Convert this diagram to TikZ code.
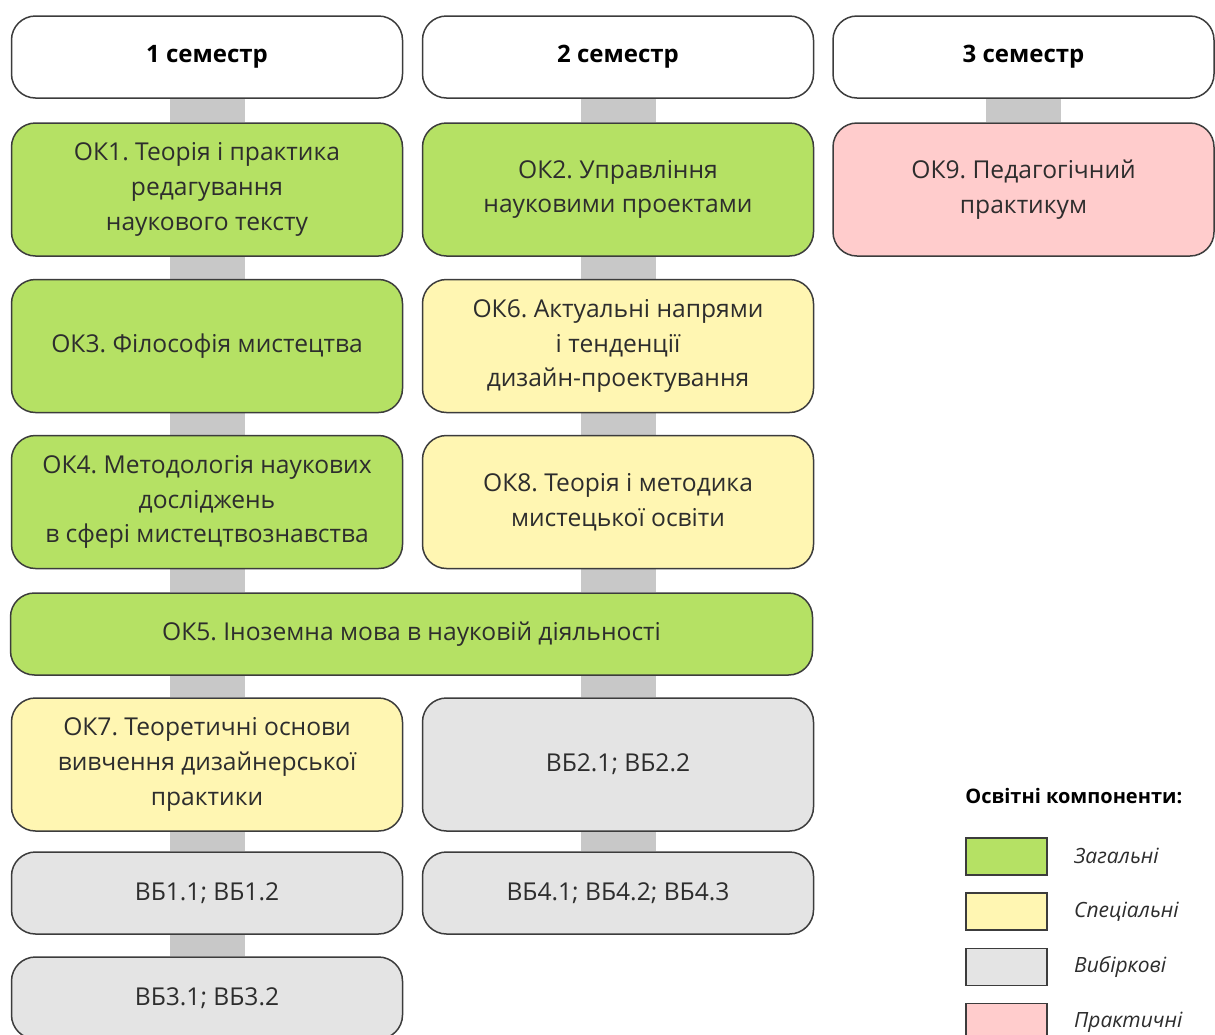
\documentclass[tikz,border=0pt]{standalone}
\usepackage{fontspec}
\setmainfont{Open Sans}
\usetikzlibrary{positioning,backgrounds}
\frenchspacing

\definecolor{okgreen}{RGB}{181,225,100}
\definecolor{okyellow}{RGB}{255,246,178}
\definecolor{okgray}{RGB}{228,228,228}
\definecolor{okpink}{RGB}{255,204,204}
\definecolor{barcol}{RGB}{200,200,200}
\definecolor{txtcol}{RGB}{45,45,45}
\definecolor{edgecol}{RGB}{60,60,60}

\tikzset{
  box/.style={draw=edgecol, line width=0.75pt, rounded corners=12pt, align=center,
    text=txtcol, font=\fontsize{12.3}{17.3}\selectfont, inner sep=0pt,
    minimum width=195.5pt, minimum height=66.5pt},
  semhead/.style={box, fill=white, text=black, font=\fontsize{12}{17.5}\selectfont\bfseries, minimum height=41pt},
  general/.style={box, fill=okgreen},
  special/.style={box, fill=okyellow},
  elective/.style={box, fill=okgray},
  practical/.style={box, fill=okpink},
  short/.style={minimum height=41pt},
  bar/.style={draw=barcol, line width=37.5pt},
  legbox/.style={draw=edgecol, line width=0.75pt, minimum width=40.5pt, minimum height=18.5pt, inner sep=0pt},
  leglabel/.style={anchor=west, font=\fontsize{10.5}{12}\selectfont\itshape, text=txtcol, inner sep=0pt}
}

\begin{document}
\begin{tikzpicture}[x=0.5pt,y=-0.5pt]
\useasboundingbox (0,0) rectangle (1215,1034);

% semesters
\node[semhead] (s1) at (207,57) {1 семестр};
\node[semhead] (s2) at (618,57) {2 семестр};
\node[semhead, minimum width=190.5pt] (s3) at (1023.5,57) {3 семестр};

% components
\node[general] (ok1) at (207,189.5) {ОК1. Теорія і практика\\редагування\\наукового тексту};
\node[general] (ok2) at (618,189.5) {ОК2. Управління\\науковими проектами};
\node[practical, minimum width=190.5pt] (ok9) at (1023.5,189.5) {ОК9. Педагогічний\\практикум};

\node[general] (ok3) at (207,346) {ОК3. Філософія мистецтва};
\node[special] (ok6) at (618,346) {ОК6. Актуальні напрями\\і тенденції\\дизайн-проектування};

\node[general] (ok4) at (207,502) {ОК4. Методологія наукових\\досліджень\\в сфері мистецтвознавства};
\node[special] (ok8) at (618,502) {ОК8. Теорія і методика\\мистецької освіти};

\node[general, short, minimum width=401pt] (ok5) at (411.5,634) {ОК5. Іноземна мова в науковій діяльності};

\node[special] (ok7) at (207,764.5) {ОК7. Теоретичні основи\\вивчення дизайнерської\\практики};
\node[elective] (vb2) at (618,764.5) {ВБ2.1; ВБ2.2};

\node[elective, short] (vb1) at (207,893) {ВБ1.1; ВБ1.2};
\node[elective, short] (vb4) at (618,893) {ВБ4.1; ВБ4.2; ВБ4.3};
\node[elective, short] (vb3) at (207,998) {ВБ3.1; ВБ3.2};

% gray links
\begin{scope}[on background layer]
\fill[white] (0,0) rectangle (1215,1034);
\foreach \a/\b in {s1/ok1, ok1/ok3, ok3/ok4, ok7/vb1, vb1/vb3, s2/ok2, ok2/ok6, ok6/ok8, vb2/vb4, s3/ok9}
  \draw[bar] (\a.south) -- (\b.north);
\draw[bar] (ok4.south) -- (ok4.south |- ok5.north);
\draw[bar] (ok8.south) -- (ok8.south |- ok5.north);
\draw[bar] (ok7.north |- ok5.south) -- (ok7.north);
\draw[bar] (vb2.north |- ok5.south) -- (vb2.north);
\end{scope}

% legend
\node[anchor=west, inner sep=0pt, font=\fontsize{10}{12}\selectfont\bfseries] (legtitle) at (965,796) {Освітні компоненти:};
\foreach \c/\t [count=\i] in {okgreen/Загальні, okyellow/Спеціальні, okgray/Вибіркові, okpink/Практичні}{
  \node[legbox, fill=\c] (leg\i) at (1006.5,{801+55.3*\i}) {};
  \node[leglabel, right=13pt of leg\i] (legt\i) {\t};
}

\end{tikzpicture}
\end{document}
